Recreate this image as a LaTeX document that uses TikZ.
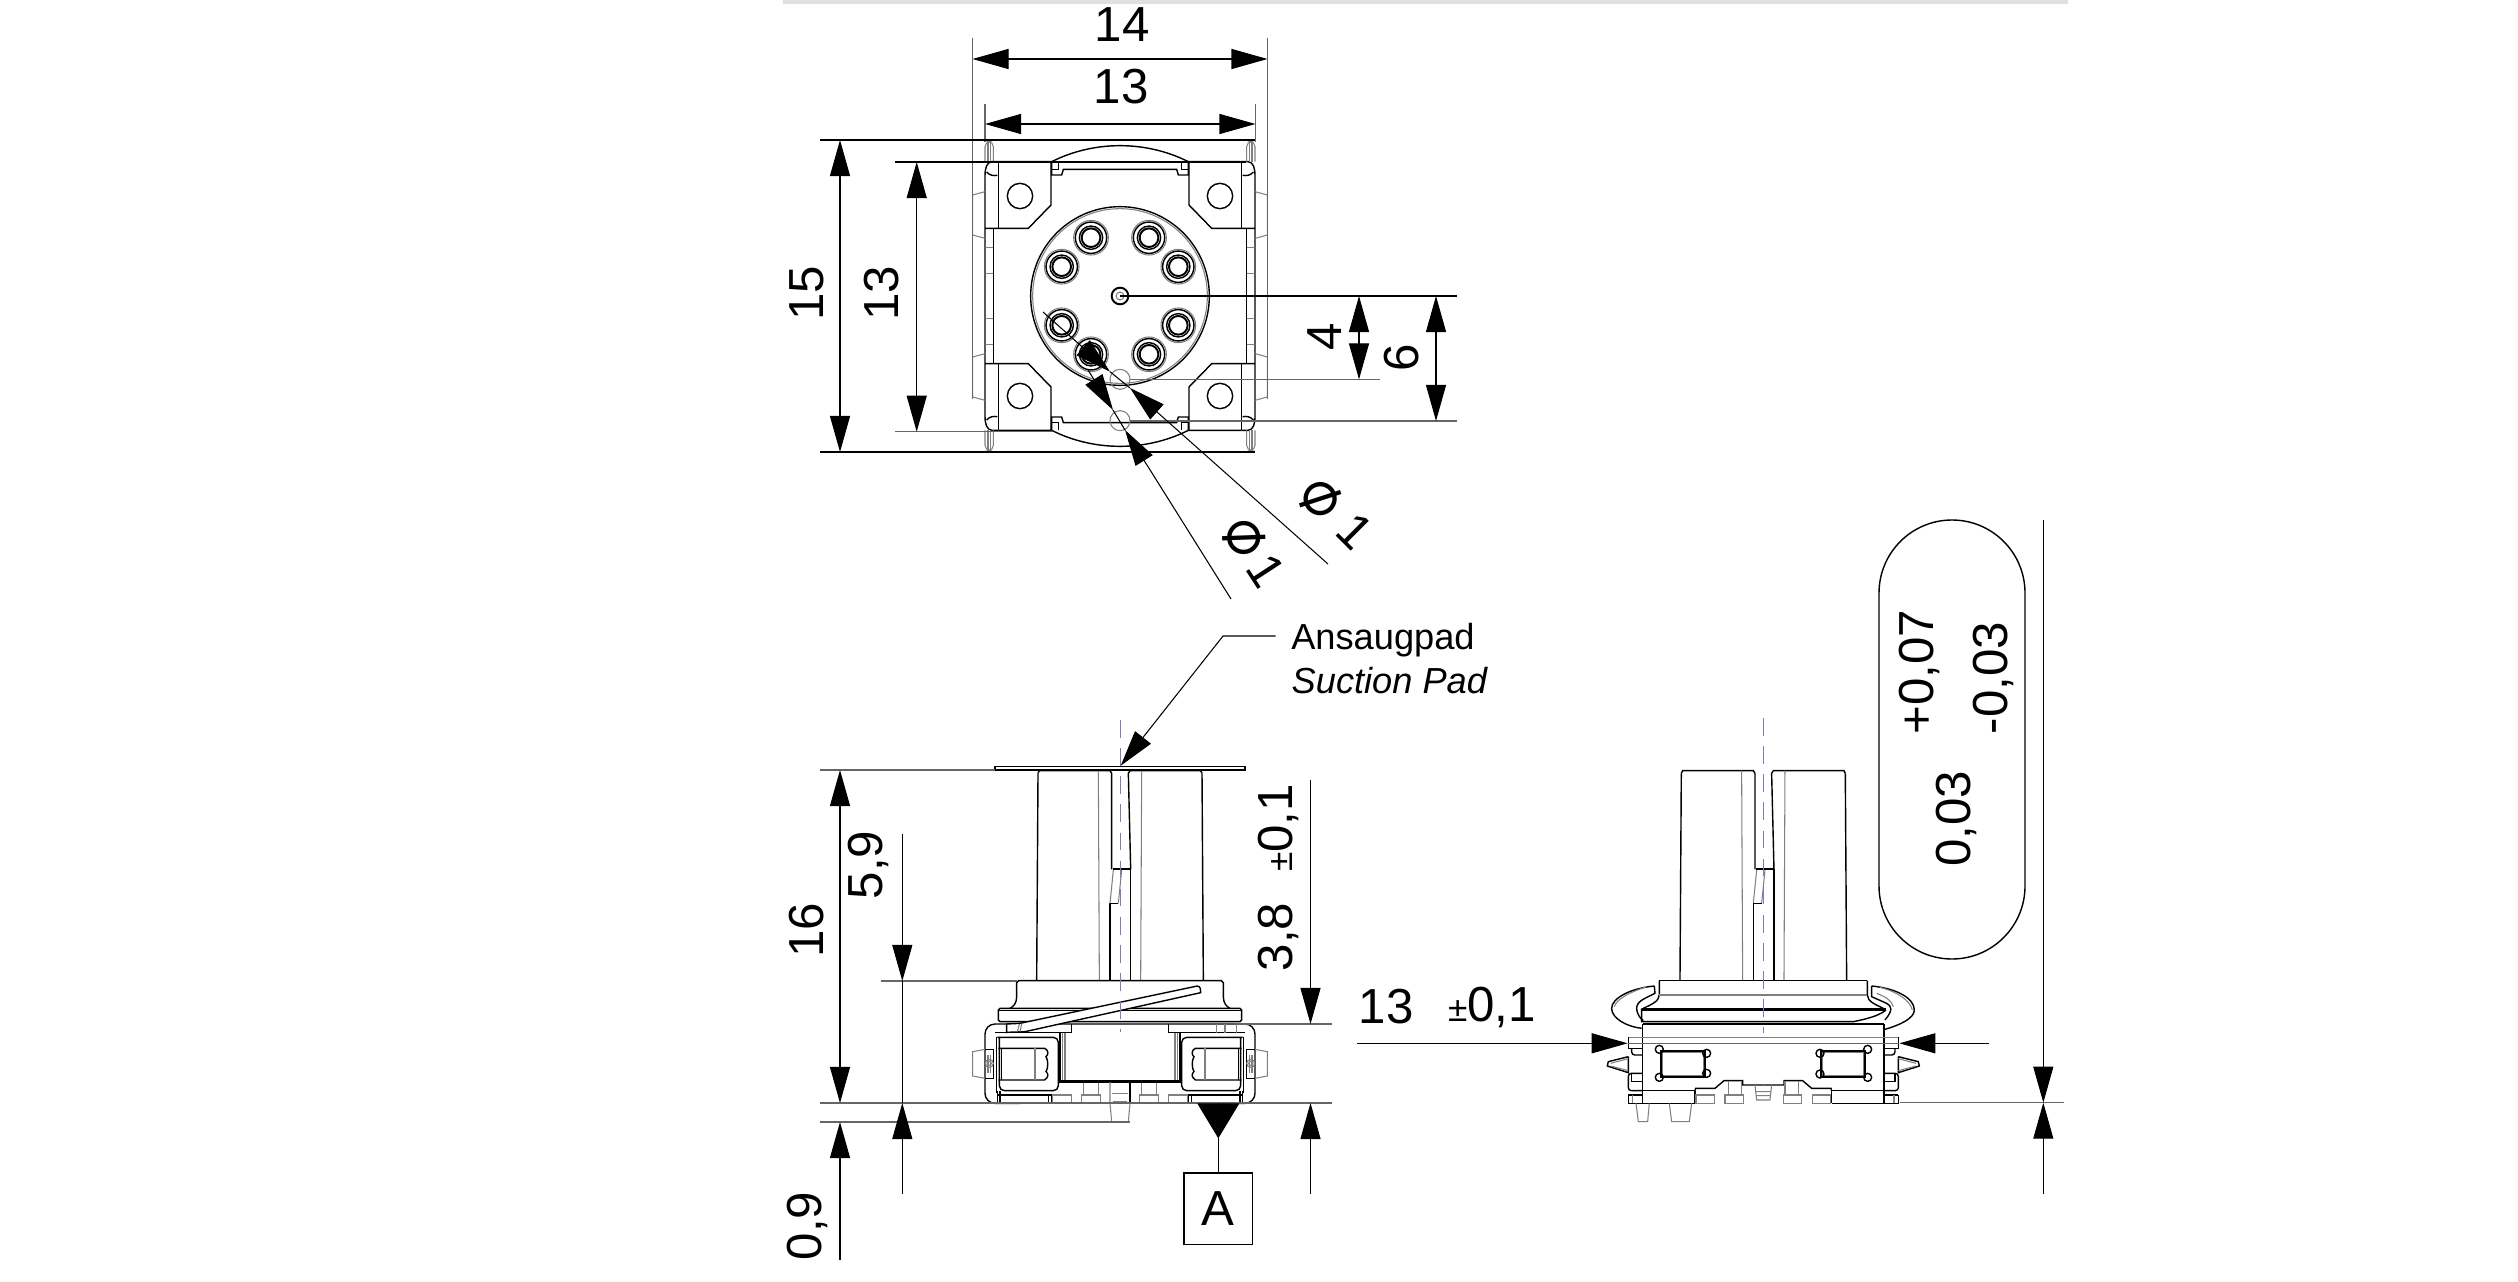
\documentclass[tikz,border=0pt]{standalone}
\usepackage{fontspec}
\setmainfont{Liberation Sans}
\newfontfamily\dejavu{DejaVu Sans}
\usetikzlibrary{arrows.meta}
\definecolor{axisblue}{RGB}{125,125,190}
\tikzset{
  dimline/.style={line width=0.3pt, black},
  extline/.style={line width=0.35pt, black!60},
  partline/.style={line width=0.4pt, black},
  heavyline/.style={line width=0.55pt, black},
  faintline/.style={line width=0.3pt, black!50},
  axisline/.style={line width=0.3pt, axisblue, dash pattern=on 5pt off 3pt},
  dimtext/.style={font=\fontsize{14}{16}\selectfont, inner sep=0pt},
  diatext/.style={font=\fontsize{18}{20}\selectfont\dejavu, inner sep=0pt},
  smalltext/.style={font=\fontsize{10.3}{12}\selectfont, inner sep=0pt, anchor=west}
}
\begin{document}
\begin{tikzpicture}[x=0.01cm,y=-0.01cm,>={Triangle[length=3.6mm,width=2mm]}]
\useasboundingbox (0,0) rectangle (2518,1282);
\fill [black!12] (783,0) rectangle (2068,4);

% top view
\begin{scope}[shift={(1120,296)},scale=1/3]
\foreach \sx in {1,-1} \foreach \sy in {1,-1} {
\begin{scope}[xscale=\sx,yscale=\sy]
\draw [partline] (-365,-403)--(-207,-403)--(-207,-273)--(-275,-203)--(-405,-203);
\draw [partline] (-365,-403)--(-365,-203);
\draw [partline] (-365,-403)--(-385,-403) .. controls (-400,-400) and (-405,-385) .. (-405,-360)--(-405,0);
\draw [partline] (-400,-372) .. controls (-392,-362) and (-380,-360) .. (-368,-362);
\draw [partline] (-380,-203)--(-380,0);
\draw [faintline,rounded corners=0.5mm] (-405,-403)--(-405,-463)--(-380,-463)--(-380,-403);
\draw [faintline] (-396,-463)--(-396,-403) (-389,-463)--(-389,-403);
\draw [faintline] (-405,-146)--(-380,-146) (-405,-68)--(-380,-68);
\draw [faintline] (-405,-313)--(-442,-303)--(-442,-183)--(-405,-173);
\draw [partline] (-205,-403)--(-205,-363)--(-175,-363)--(-170,-380)--(0,-380);
\draw [partline] (-185,-403)--(-185,-380)--(-205,-380);
\draw [partline] (-205,-403) .. controls (-141,-435) and (-71,-451) .. (0,-451);
\draw [partline] (-300,-300) circle (38);
\draw [faintline] (-29*3,-58.3*3) circle (52);
\draw [faintline] (-58.3*3,-29.3*3) circle (52);
\draw [partline] (-29*3,-58.3*3) circle (47) (-29*3,-58.3*3) circle (35);
\draw [partline] (-58.3*3,-29.3*3) circle (47) (-58.3*3,-29.3*3) circle (35);
\draw [heavyline] (-29*3,-58.3*3) circle (28);
\draw [heavyline] (-58.3*3,-29.3*3) circle (28);
\end{scope}}
\draw [partline] (0,0) circle (268);
\draw [faintline] (0,0) circle (262);
\draw [heavyline] (0,0) circle (25);
\draw [faintline] (0,0) circle (12);
\draw [faintline] (0,250) circle (30) (0,374) circle (30);
\end{scope}

\draw [extline] (972.5,38)--(972.5,399) (1267.5,38)--(1267.5,399);
\draw [extline] (985,104)--(985,142) (1255.5,104)--(1255.5,142);
\draw [partline] (820,140)--(1255,140) (820,452)--(1255,452);
\draw [partline] (895,162)--(1246,162);
\draw [extline] (895,431.7)--(1053,431.7);
\draw [dimline] (1120,296)--(1457,296);
\draw [extline] (1130,379.4)--(1380,379.4) (1130,421)--(1457,421);
\draw [dimline,<->] (972.5,59)--(1267.5,59);
\draw [dimline,<->] (985,124)--(1255.5,124);
\draw [dimline,<->] (840,140)--(840,452);
\draw [dimline,<->] (916.7,162)--(916.7,431.7);
\draw [dimline,<->] (1359,296)--(1359,379.4);
\draw [dimline,<->] (1436,296)--(1436,421);
\draw [dimline,->] (1043,312)--(1110,371.7);
\draw [dimline,<-] (1130,388)--(1328,564);
\draw [dimline,->] (1088,370)--(1113,410);
\draw [dimline,<-] (1125,430)--(1231,599);
\draw [dimline] (1110,371.7)--(1130,388) (1113,410)--(1125,430);
\node [dimtext] (lab14) at (1122,25) {14};
\node [dimtext] (lab13top) at (1121,87) {13};
\node [dimtext,rotate=90] (lab15) at (807,293) {15};
\node [dimtext,rotate=90] (lab13left) at (882,293) {13};
\node [dimtext,rotate=90] (lab4) at (1325,337) {4};
\node [dimtext,rotate=90] (lab6) at (1402,358) {6};
\node [diatext,rotate=-27] (diaup) at (1321,499) {⌀};
\node [dimtext,rotate=-45] (oneup) at (1355,531) {1};
\node [diatext,rotate=-43] (dialow) at (1244,538) {⌀};
\node [dimtext,rotate=-57] (onelow) at (1266,571) {1};

% tube, front and side view
\foreach \cx in {1120,1763.3} {
\begin{scope}[shift={(\cx,960)},scale=1/3]
\draw [partline] (-246,-560)--(-250,60) (246,-560)--(250,60);
\draw [partline] (-246,-560)--(-242,-568)--(-30,-568)--(-25,-560)--(-25,-272);
\draw [partline] (246,-560)--(242,-568)--(30,-568)--(25,-560)--(32,-272);
\draw [faintline] (-65,-568)--(-62,60) (65,-568)--(62,60);
\draw [heavyline] (-22,-272)--(32,-272);
\draw [partline] (32,-272)--(32,60) (-30,-170)--(-30,60);
\draw [faintline] (5,-270)--(-5,-170) (-20,-270)--(-30,-170);
\draw [partline] (-30,-170)--(-5,-170);
\end{scope}}

% front view
\begin{scope}[shift={(1120,960)},scale=1/3]
\draw [partline] (-375,-580) rectangle (375,-570);
\foreach \sx in {1,-1} {
\begin{scope}[xscale=\sx]
\draw [partline] (0,62)--(-304,62)--(-310,68)--(-310,110) .. controls (-310,130) and (-320,140) .. (-330,145);
\draw [partline] (0,145)--(-360,145)--(-365,150)--(-365,180)--(-360,185)--(0,185);
\draw [partline] (0,152)--(-365,152);
\draw [partline,rounded corners=1mm] (0,192)--(-405,192)--(-405,430)--(-300,430);
\draw [partline] (-375,218)--(-145,218)--(-145,192);
\draw [partline] (-180,218)--(-180,362);
\draw [faintline] (-165,218)--(-165,360) (-172,218)--(-172,360);
\draw [partline,rounded corners=0.5mm] (-368,232)--(-185,232)--(-185,392)--(-362,392)--(-362,232);
\draw [partline] (-370,232)--(-370,400);
\draw [partline] (-365,265)--(-226,265) .. controls (-214,270) and (-214,285) .. (-222,290) .. controls (-215,300) and (-215,325) .. (-222,335) .. controls (-214,340) and (-214,352) .. (-226,360)--(-365,360);
\draw [partline] (-355,265)--(-355,360);
\draw [faintline] (-255,265)--(-255,360);
\draw [partline] (-405,268)--(-380,268)--(-380,355)--(-405,355);
\draw [faintline] (-405,268)--(-442,275)--(-442,348)--(-405,355);
\draw [faintline] (-392,310) circle (12) (-392,310) circle (6);
\draw [faintline] (-396,285)--(-396,340) (-388,285)--(-388,340);
\draw [partline] (-368,392)--(-368,430) (-360,392)--(-360,430);
\draw [partline] (-368,405)--(-205,405)--(-205,430)--(-215,430)--(-215,405);
\draw [partline] (-368,430)--(-202,430);
\draw [faintline] (-202,405) rectangle (-145,430);
\draw [faintline] (-115,405) rectangle (-58,430);
\draw [faintline] (-110,365)--(-110,405) (-65,365)--(-65,405);
\draw [partline] (-185,362)--(0,362) (-185,366)--(0,366);
\end{scope}}
\draw [heavyline] (30,366)--(30,430);
\draw [faintline] (-30,366)--(-30,430)--(-25,485) (30,430)--(25,485) (-25,485)--(25,485);
\draw [faintline] (-25,400)--(25,400) (-20,425)--(20,425);
\draw [faintline] (290,192)--(290,218) (315,192)--(315,218) (350,192)--(350,218);
\draw [partline,fill=white] (-340,192)--(-300,190)--(232,78) .. controls (240,78) and (244,90) .. (242,98)--(-285,215)--(-340,217)--cycle;
\draw [faintline] (-302,192)--(-308,215) (-295,192)--(-300,215);
\end{scope}
\draw [axisline] (1120.7,720)--(1120.7,1032);

\draw [extline] (820,770)--(995,770);
\draw [extline] (820,1103)--(1332,1103);
\draw [extline] (820,1122)--(1130,1122);
\draw [extline] (881,981)--(1017,981);
\draw [extline] (1235,1024)--(1332,1024);
\draw [dimline,<->] (840,770)--(840,1103);
\draw [dimline,<-] (840,1122)--(840,1260);
\draw [dimline,<-] (902.3,981)--(902.3,834);
\draw [dimline] (902.3,981)--(902.3,1103);
\draw [dimline,<-] (902.3,1103)--(902.3,1194);
\draw [dimline,<-] (1310.5,1024)--(1310.5,780);
\draw [dimline,<-] (1310.5,1103)--(1310.5,1194);
\node [dimtext,rotate=90] (lab16) at (807,930) {16};
\node [dimtext,rotate=90] (lab09) at (807,1226) {0,9};
\node [dimtext,rotate=90] (lab59) at (868,865) {5,9};
\node [dimtext,rotate=90] (lab38) at (1278,937) {3,8};
\node [dimtext,rotate=90] (lab01a) at (1278,828) {{\fontsize{10}{12}\selectfont ±}0,1};
\node [dimtext] (lab13side) at (1386,1007) {13};
\node [dimtext] (lab01b) at (1492,1007) {{\fontsize{10}{12}\selectfont ±}0,1};

\node [smalltext,inner xsep=1.5mm,text depth=0pt] (ansaug) at (1275.6,636) {Ansaugpad};
\node [smalltext,inner xsep=1.5mm,font=\fontsize{10.3}{12}\selectfont\itshape] (suction) at (1276,681) {Suction Pad};
\draw [dimline,<-] (1120.7,765.7)--(1223,636)--(ansaug.west);

\node [draw,dimline,minimum width=6.86mm,minimum height=7.1mm,dimtext,outer sep=0pt] (boxA) at (1218.3,1208.5) {A};
\coordinate (datumA) at (1218.3,1103);
\coordinate (tipA) at (1218.3,1138.3);
\draw [dimline,-{Triangle[length=3.5mm,width=4.2mm]}] (datumA)--(tipA);
\draw [dimline] (tipA)--(boxA.north);

% side view
\begin{scope}[shift={(1763.3,960)},scale=1/3]
\draw [partline] (-312,62)--(312,62);
\foreach \sx in {1,-1} {
\begin{scope}[xscale=\sx]
\draw [partline] (-312,62)--(-312,105) .. controls (-312,125) and (-340,135) .. (-360,145);
\draw [faintline] (-312,105)--(0,105);
\draw [heavyline] (-362,192)--(0,192);
\draw [partline] (-362,192)--(-362,430);
\draw [faintline] (-405,232)--(0,232);
\draw [partline] (-405,232)--(-405,265)--(-362,265);
\draw [partline,rounded corners=0.3mm] (-395,265)--(-395,285)--(-362,285);
\draw [partline] (-405,290)--(-465,305)--(-468,318)--(-405,338)--(-405,290);
\draw [faintline] (-405,296)--(-458,310) (-405,332)--(-458,318);
\draw [partline,rounded corners=0.3mm] (-362,340)--(-405,340)--(-405,392)--(-362,392);
\draw [partline] (-395,340)--(-395,365)--(-362,365);
\draw [partline] (-405,405)--(-405,430)--(-362,430) (-405,405)--(-362,405);
\draw [faintline] (-392,405)--(-392,430);
\draw [partline] (-362,392)--(-205,392) (-362,430)--(-205,430);
\draw [partline] (-205,392)--(-205,430);
\draw [partline] (-205,392)--(-203,385)--(-145,385)--(-118,362)--(-62,362)--(-62,375)--(0,375);
\draw [faintline] (-202,405) rectangle (-147,430);
\draw [faintline] (-115,405) rectangle (-60,430);
\draw [faintline] (-105,362)--(-105,405) (-65,362)--(-65,405);
\end{scope}}
\draw [faintline] (-25,375)--(-20,420)--(20,420)--(25,375) (-22,395)--(22,395) (-21,407)--(21,407);
\foreach \wx in {-307,173} {
\draw [heavyline] (\wx,272) rectangle (\wx+132,352);
\draw [faintline] (\wx+5,277) rectangle (\wx+127,347);
}
\foreach \cornx/\corny in {-312/268,-170/280,-170/340,-312/352,170/280,313/268,170/342,313/352} {
\draw [partline] (\cornx,\corny) circle (12);
}
\draw [faintline] (-382,430)--(-375,485)--(-347,485)--(-342,430);
\draw [faintline] (-282,430)--(-275,485)--(-222,485)--(-215,430);
% clips
\draw [partline] (-327,78) .. controls (-400,85) and (-455,115) .. (-455,145) .. controls (-455,175) and (-410,200) .. (-365,205);
\draw [partline] (-327,78)--(-325,100)--(-355,115);
\draw [partline] (-355,115) .. controls (-375,125) and (-380,135) .. (-380,145) .. controls (-380,160) and (-370,175) .. (-360,182);
\draw [faintline] (-350,80) .. controls (-395,95) and (-440,115) .. (-447,140);
\draw [partline] (325,78) .. controls (400,85) and (453,115) .. (453,150) .. controls (453,175) and (410,195) .. (365,208);
\draw [partline] (325,78)--(325,110)--(370,130) .. controls (385,138) and (390,150) .. (365,180);
\draw [faintline] (350,82) .. controls (400,95) and (440,120) .. (447,150);
\draw [faintline] (340,100) .. controls (365,110) and (385,120) .. (390,140);
\draw [partline] (-365,145)--(368,145) (-365,150)--(368,150);
\draw [partline] (-365,145)--(-365,185)--(270,185) .. controls (320,175) and (350,165) .. (368,150);
\end{scope}
\draw [axisline] (1763.3,718)--(1763.3,1033);

\draw [partline,rounded corners=7.3mm] (1879,520) rectangle (2025,959);
\node [dimtext,rotate=90] (labplus) at (1919,672) {+0,07};
\node [dimtext,rotate=90] (labminus) at (1993,678) {-0,03};
\node [dimtext,rotate=90] (labzero) at (1956,819) {0,03};

\draw [extline] (1627.7,1043.3)--(1899.3,1043.3);
\draw [extline] (1900,1102.7)--(2064,1102.7);
\draw [dimline,<-] (1627.7,1043.3)--(1357,1043.3);
\draw [dimline,<-] (1899.3,1043.3)--(1989,1043.3);
\draw [dimline,<-] (2043.3,1102.7)--(2043.3,520);
\draw [dimline,<-] (2043.3,1102.7)--(2043.3,1194);
\end{tikzpicture}
\end{document}
